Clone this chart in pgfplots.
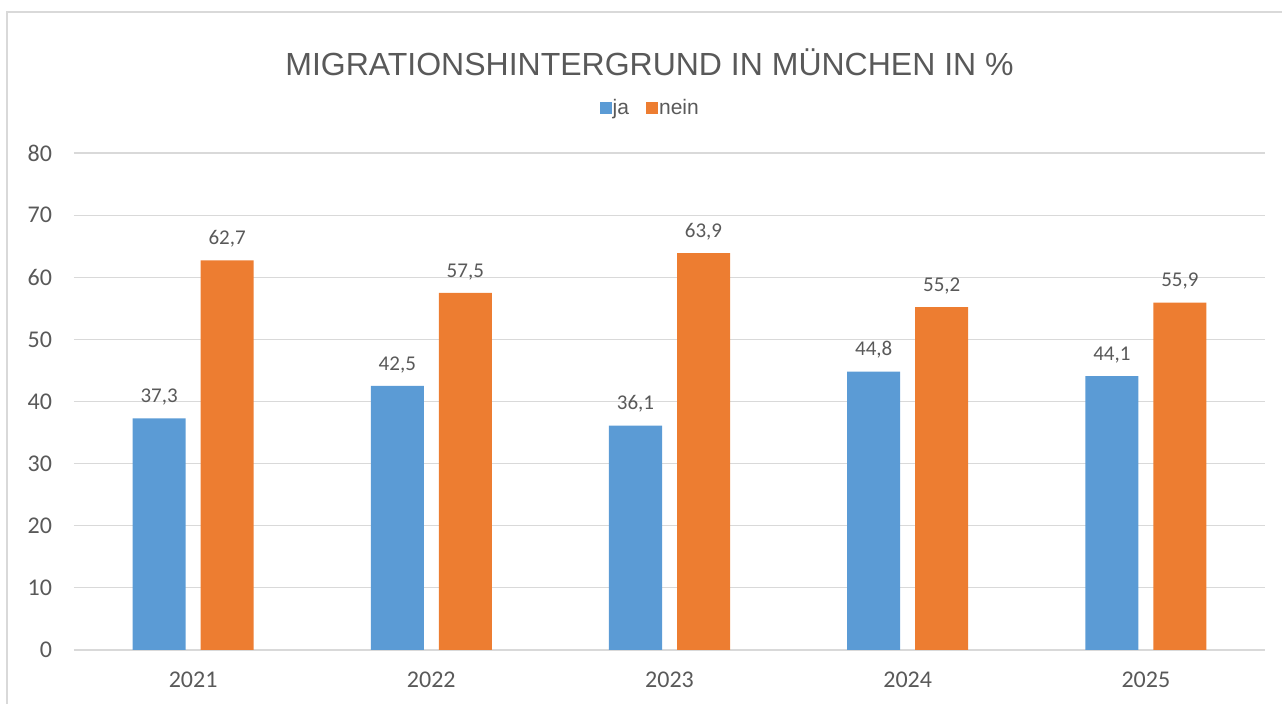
\documentclass[border=0pt]{standalone}
\usepackage{fontspec}
\setmainfont{Liberation Sans}
\newfontfamily\carlito{Carlito}
\usepackage{pgfplots}
\pgfplotsset{compat=1.18}
\definecolor{cblue}{HTML}{5B9BD5}
\definecolor{corange}{HTML}{ED7D31}
\definecolor{cgrid}{HTML}{D9D9D9}
\definecolor{ctext}{HTML}{595959}
\begin{document}
\begin{tikzpicture}
\path[use as bounding box] (0,0) rectangle (641pt,352pt);
\draw[cgrid, line width=0.6pt] (3.5pt,-10pt) -- (3.5pt,346pt) -- (660pt,346pt);
\node[font=\fontsize{16}{19}\selectfont, text=ctext, anchor=base, inner sep=0pt] at (324.75pt,314pt) {MIGRATIONSHINTERGRUND IN MÜNCHEN IN \%};
\begin{axis}[
 at={(37pt,27pt)}, anchor=south west,
 scale only axis, width=595.5pt, height=248.5pt,
 ybar=7.5pt, bar width=26.5pt,
 xmin=-0.5, xmax=4.5, ymin=0, ymax=80,
 xtick={0,1,2,3,4}, xticklabels={2021,2022,2023,2024,2025},
 ytick={0,10,...,80},
 ymajorgrids, grid style={cgrid, line width=0.6pt},
 axis line style={draw=none},
 major tick length=0pt,
 tick label style={font=\carlito\fontsize{12}{14}\selectfont, text=ctext},
 /pgf/number format/assume math mode=true,
 yticklabel style={xshift=-7.5pt},
 xticklabel style={yshift=-7.5pt},
 nodes near coords={\pgfmathprintnumber[fixed,fixed zerofill,precision=1,use comma,assume math mode=true]{\pgfplotspointmeta}},
 nodes near coords style={font=\carlito\fontsize{10.5}{12}\selectfont, text=ctext, anchor=south, yshift=3pt},
 legend image code/.code={\fill[#1] (0pt,-2.9pt) rectangle (5.8pt,2.9pt);},
 legend style={draw=none, fill=none, legend columns=-1, font=\fontsize{10.5}{12}\selectfont, text=ctext,
   at={(0.4836,1.0905)}, anchor=center, inner sep=0pt,
   nodes={inner sep=0.6pt},
   /tikz/every even column/.append style={column sep=8pt}},
]
\addplot[fill=cblue, draw=none] coordinates {(0,37.3) (1,42.5) (2,36.1) (3,44.8) (4,44.1)};
\addplot[fill=corange, draw=none] coordinates {(0,62.7) (1,57.5) (2,63.9) (3,55.2) (4,55.9)};
\legend{ja,nein}
\end{axis}
\end{tikzpicture}
\end{document}
